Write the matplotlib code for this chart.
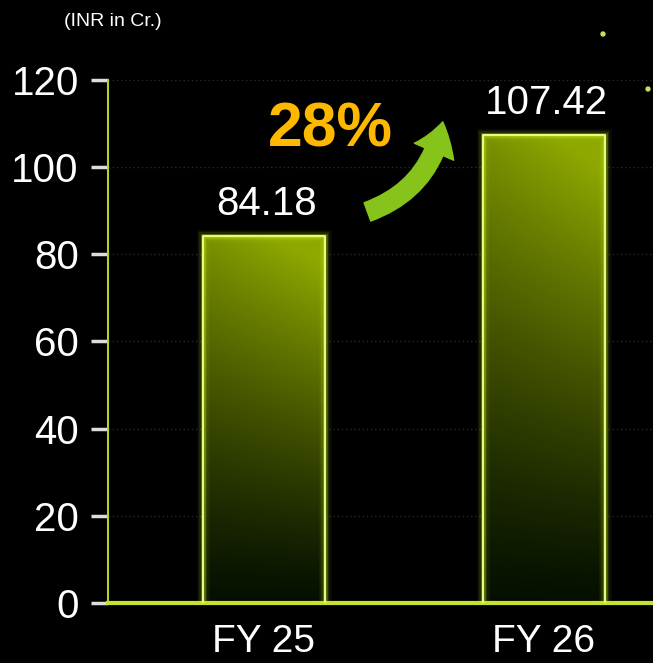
import numpy as np
import matplotlib
matplotlib.use("Agg")
import matplotlib.pyplot as plt
from matplotlib.patches import FancyArrowPatch

years = ["FY 25", "FY 26"]
revenue = [84.18, 107.42]
value_labels = ["84.18", "107.42"]
growth_label = "28%"
unit_label = "(INR in Cr.)"
yticks = [0, 20, 40, 60, 80, 100, 120]

plt.rcParams['font.family'] = ['Liberation Sans', 'DejaVu Sans']

fig = plt.figure(figsize=(6.53, 6.63), dpi=100)
fig.patch.set_facecolor("black")
ax = fig.add_axes((0.1654, 0.0905, 0.8346, 0.789))
ax.set_facecolor("black")

x = np.arange(len(years))
bars = ax.bar(x, revenue, width=0.436, color="none", zorder=3)
ax.set_xlim(-0.557, 1.389)
ax.set_ylim(0, 120)

# gradient fill for each bar, bright at the top, dark near the base
gy = np.linspace(0, 1, 200)[:, None]
gx = np.linspace(0, 1, 60)[None, :]
top = np.array([0.56, 0.66, 0.0])
bottom = np.array([0.02, 0.06, 0.0])
for b in bars:
    x0, w, h = b.get_x(), b.get_width(), b.get_height()
    t = (gy ** 1.2) * (0.85 + 0.25 * gx)
    t = np.clip(t, 0, 1)
    img = bottom[None, None, :] + (top - bottom)[None, None, :] * t[:, :, None]
    im = ax.imshow(img, extent=(x0, x0 + w, 0, h), origin="lower",
                   aspect="auto", zorder=2, interpolation="bicubic")
    im.set_clip_path(b)
    # glowing outline
    for lw, a in [(9, 0.06), (6, 0.12), (3.5, 0.25)]:
        ax.plot([x0, x0, x0 + w, x0 + w], [0, h, h, 0], color="#c8f000",
                lw=lw, alpha=a, zorder=4, solid_joinstyle="miter")
    ax.plot([x0, x0, x0 + w, x0 + w], [0, h, h, 0], color="#e4fa80",
            lw=1.6, zorder=5)

for i, v in enumerate(revenue):
    ax.text(x[i] + 0.01, v + 3, value_labels[i], ha="center", va="bottom",
            color="white", fontsize=29, zorder=6)

# axes styling
for s in ["top", "right"]:
    ax.spines[s].set_visible(False)
ax.spines["left"].set_color("#b8d020")
ax.spines["left"].set_linewidth(1.5)
ax.spines["bottom"].set_color("#c8e030")
ax.spines["bottom"].set_linewidth(3)
ax.set_yticks(yticks)
ax.set_yticklabels([str(v) for v in yticks])
ax.set_xticks(x)
ax.set_xticklabels(years)
ax.tick_params(axis="y", colors="white", labelsize=29, length=12, width=2.5,
               pad=9, direction="out")
ax.tick_params(axis="y", color="#dddddd")
ax.tick_params(axis="x", colors="white", labelsize=28, length=0, pad=15)
ax.yaxis.grid(True, color="#2a2a2a", linestyle=(0, (1, 2)), linewidth=1)
ax.set_axisbelow(True)

# growth arrow and label
arr = FancyArrowPatch((0.36, 89.5), (0.64, 111), connectionstyle="arc3,rad=0.3",
                      arrowstyle="simple,head_width=2.2,head_length=1.6,tail_width=1.0",
                      mutation_scale=14, color="#86c41c", zorder=6)
ax.add_patch(arr)
ax.text(0.236, 108.6, growth_label, ha="center", va="center", color="#ffb800",
        fontsize=45, fontweight="bold", zorder=6)

fig.text(0.172, 0.967, unit_label, ha="center", va="center", color="white", fontsize=14)

# little glowing dots in the background
fig.patches.append(plt.Circle((603 / 653, 1 - 34 / 663), 0.003, color="#c8e060",
                              transform=fig.transFigure, figure=fig))
fig.patches.append(plt.Circle((648 / 653, 1 - 89 / 663), 0.003, color="#c8e060",
                              transform=fig.transFigure, figure=fig))

fig.savefig("out.png", dpi=100, facecolor="black")
